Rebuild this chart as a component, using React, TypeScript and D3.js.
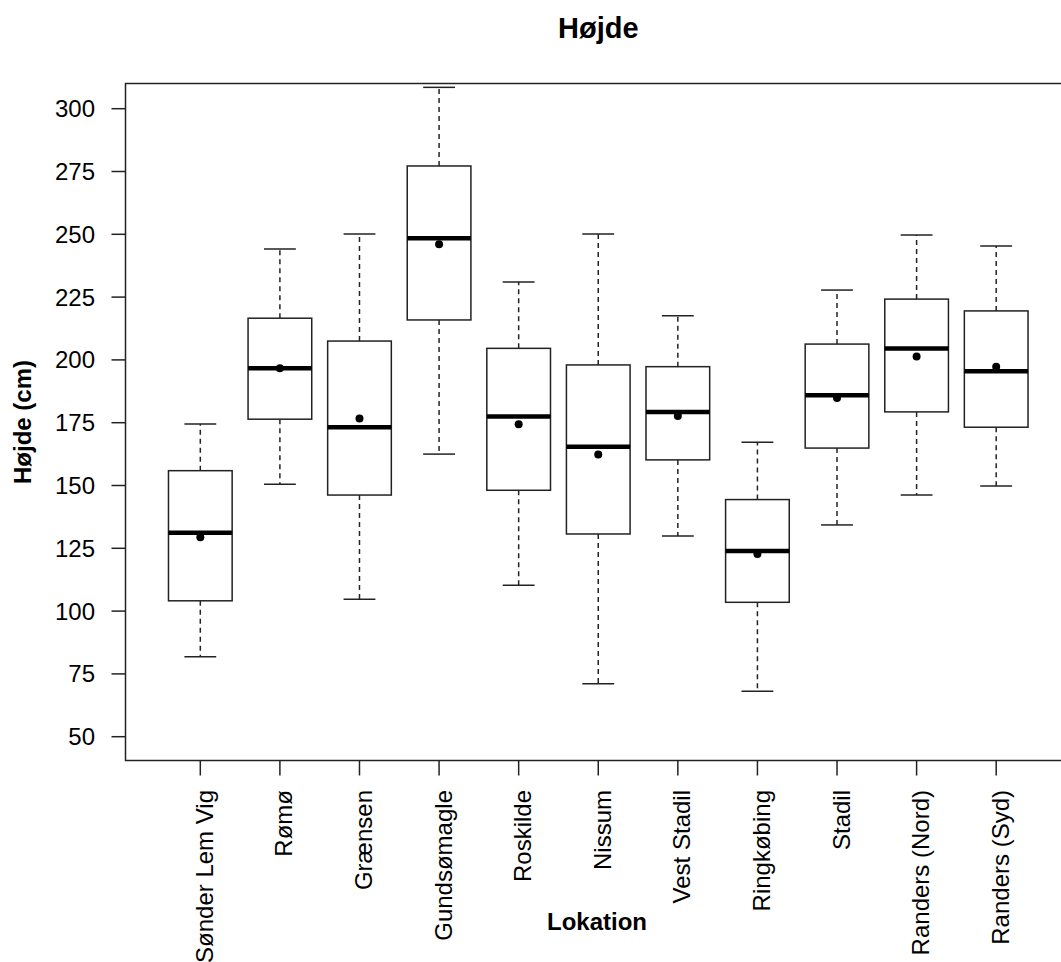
import React from "react";
import * as d3 from "d3";

const categories = [
  "Sønder Lem Vig", "Rømø", "Grænsen", "Gundsømagle", "Roskilde", "Nissum",
  "Vest Stadil", "Ringkøbing", "Stadil", "Randers (Nord)", "Randers (Syd)",
];
const whiskerLow = [81.8, 150.5, 104.7, 162.5, 110.3, 71.1, 129.9, 68.1, 134.3, 146.2, 149.8];
const q1 = [104.1, 176.4, 146.2, 215.9, 148.1, 130.7, 160.2, 103.5, 164.9, 179.3, 173.2];
const medians = [131.2, 196.7, 173.2, 248.4, 177.5, 165.4, 179.3, 123.9, 185.9, 204.5, 195.5];
const q3 = [155.9, 216.6, 207.5, 277.2, 204.6, 198.0, 197.3, 144.4, 206.3, 224.2, 219.5];
const whiskerHigh = [174.5, 244.1, 250.1, 308.5, 231.0, 250.1, 217.6, 167.2, 227.8, 249.7, 245.3];
const means = [129.4, 196.7, 176.7, 246.0, 174.4, 162.3, 177.7, 122.7, 184.8, 201.4, 197.3];
const yTicks = [50, 75, 100, 125, 150, 175, 200, 225, 250, 275, 300];

const W = 1061;
const H = 962;
const plotLeft = 125.5;
const plotRight = 1071;
const plotTop = 83.5;
const plotBottom = 760.5;
const font = "'Liberation Sans', Arial, sans-serif";

export default function App() {
  const x = d3.scaleLinear().domain([0.06, 11.94]).range([plotLeft, plotRight]);
  const y = d3.scaleLinear().domain([50, 300]).range([736.7, 108.7]);
  const boxHalf = x(0.4) - x(0);
  const capHalf = x(0.2) - x(0);
  const stroke = "#222";

  return (
    <svg
      width={W}
      height={H}
      style={{ position: "absolute", left: 0, top: 0, background: "#fff" }}
      fontFamily={font}
    >
      <rect x={0} y={0} width={W} height={H} fill="#fff" />
      <text x={(plotLeft + plotRight) / 2} y={38} textAnchor="middle" fontSize={29} fontWeight="bold" fill="#000">
        Højde
      </text>

      {/* frame */}
      <rect x={plotLeft} y={plotTop} width={plotRight - plotLeft} height={plotBottom - plotTop} fill="none" stroke={stroke} strokeWidth={1.5} />

      {/* y axis ticks */}
      {yTicks.map((t) => (
        <g key={t}>
          <line x1={plotLeft - 14} x2={plotLeft} y1={y(t)} y2={y(t)} stroke={stroke} strokeWidth={1.5} />
          <text x={95} y={y(t)} dy="0.35em" textAnchor="end" fontSize={24} fill="#000">
            {t}
          </text>
        </g>
      ))}
      <text
        transform={`translate(31, ${(plotTop + plotBottom) / 2}) rotate(-90)`}
        textAnchor="middle"
        fontSize={24}
        fontWeight="bold"
        fill="#000"
      >
        Højde (cm)
      </text>

      {/* x axis ticks and labels */}
      {categories.map((c, i) => {
        const cx = x(i + 1);
        return (
          <g key={c}>
            <line x1={cx} x2={cx} y1={plotBottom} y2={plotBottom + 15} stroke={stroke} strokeWidth={1.5} />
            <text
              transform={`translate(${cx + 12.5}, 790) rotate(-90)`}
              textAnchor="end"
              fontSize={24}
              fill="#000"
            >
              {c}
            </text>
          </g>
        );
      })}
      <text x={597} y={930} textAnchor="middle" fontSize={24} fontWeight="bold" fill="#000">
        Lokation
      </text>

      {/* boxes */}
      {categories.map((c, i) => {
        const cx = x(i + 1);
        return (
          <g key={"b" + c}>
            <line x1={cx} x2={cx} y1={y(q3[i])} y2={y(whiskerHigh[i])} stroke={stroke} strokeWidth={1.5} strokeDasharray="5,4" />
            <line x1={cx} x2={cx} y1={y(q1[i])} y2={y(whiskerLow[i])} stroke={stroke} strokeWidth={1.5} strokeDasharray="5,4" />
            <line x1={cx - capHalf} x2={cx + capHalf} y1={y(whiskerHigh[i])} y2={y(whiskerHigh[i])} stroke={stroke} strokeWidth={1.5} />
            <line x1={cx - capHalf} x2={cx + capHalf} y1={y(whiskerLow[i])} y2={y(whiskerLow[i])} stroke={stroke} strokeWidth={1.5} />
            <rect
              x={cx - boxHalf}
              y={y(q3[i])}
              width={boxHalf * 2}
              height={y(q1[i]) - y(q3[i])}
              fill="#fff"
              stroke={stroke}
              strokeWidth={1.5}
            />
            <line x1={cx - boxHalf} x2={cx + boxHalf} y1={y(medians[i])} y2={y(medians[i])} stroke="#000" strokeWidth={4.5} />
            <circle cx={cx} cy={y(means[i])} r={4} fill="#000" />
          </g>
        );
      })}
    </svg>
  );
}
